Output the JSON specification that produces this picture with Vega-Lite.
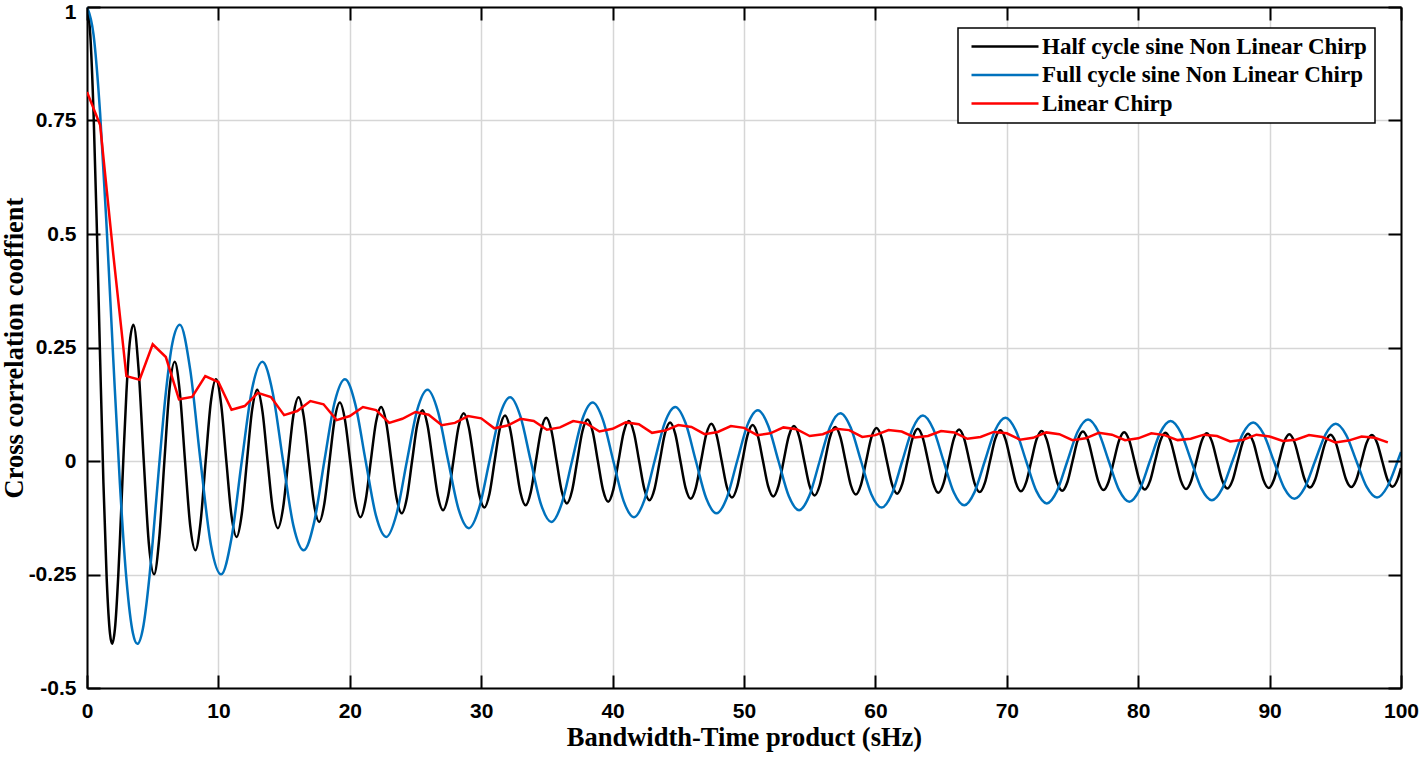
{
"$schema": "https://vega.github.io/schema/vega-lite/v6.json",
"width": 1314, "height": 681,
"autosize": {"type": "none"},
"padding": {"left": 87, "top": 7, "right": 23, "bottom": 69},
"background": "white",
"datasets": {
"half": [{"x":0,"y":1},{"x":0.25,"y":0.9385},{"x":0.5,"y":0.7652},{"x":0.75,"y":0.5118},{"x":1,"y":0.2239},{"x":1.25,"y":-0.0484},{"x":1.5,"y":-0.2601},{"x":1.75,"y":-0.3801},{"x":1.915,"y":-0.4028},{"x":2.125,"y":-0.37},{"x":2.375,"y":-0.2551},{"x":2.5,"y":-0.1776},{"x":2.75,"y":-0.0068},{"x":3,"y":0.1506},{"x":3.25,"y":0.2601},
{"x":3.534,"y":0.3001},{"x":3.927,"y":0.2013},{"x":4.32,"y":0},{"x":4.712,"y":-0.1838},{"x":5.105,"y":-0.2497},{"x":5.498,"y":-0.1701},{"x":5.89,"y":0},{"x":6.283,"y":0.1592},{"x":6.676,"y":0.2184},{"x":7.069,"y":0.15},{"x":7.461,"y":0},{"x":7.854,"y":-0.1423},{"x":8.247,"y":-0.1965},{"x":8.639,"y":-0.1357},{"x":9.032,"y":0},{"x":9.425,"y":0.1299},{"x":9.817,"y":0.1801},{"x":10.21,"y":0.1248},{"x":10.603,"y":0},{"x":10.996,"y":-0.1203},{"x":11.388,"y":-0.1672},{"x":11.781,"y":-0.1162},{"x":12.174,"y":0},{"x":12.566,"y":0.1125},{"x":12.959,"y":0.1567},{"x":13.352,"y":0.1092},{"x":13.744,"y":0},{"x":14.137,"y":-0.1061},{"x":14.53,"y":-0.148},{"x":14.923,"y":-0.1033},{"x":15.315,"y":0},{"x":15.708,"y":0.1007},{"x":16.101,"y":0.1406},{"x":16.493,"y":0.0982},{"x":16.886,"y":0},{"x":17.279,"y":-0.096},{"x":17.671,"y":-0.1342},{"x":18.064,"y":-0.0939},{"x":18.457,"y":0},{"x":18.85,"y":0.0919},{"x":19.242,"y":0.1286},{"x":19.635,"y":0.09},{"x":20.028,"y":0},{"x":20.42,"y":-0.0883},{"x":20.813,"y":-0.1237},{"x":21.206,"y":-0.0866},{"x":21.598,"y":0},{"x":21.991,"y":0.0851},{"x":22.384,"y":0.1192},{"x":22.777,"y":0.0836},{"x":23.169,"y":0},{"x":23.562,"y":-0.0822},{"x":23.955,"y":-0.1153},{"x":24.347,"y":-0.0808},{"x":24.74,"y":0},{"x":25.133,"y":0.0796},{"x":25.525,"y":0.1117},{"x":25.918,"y":0.0784},{"x":26.311,"y":0},{"x":26.704,"y":-0.0772},{"x":27.096,"y":-0.1084},{"x":27.489,"y":-0.0761},{"x":27.882,"y":0},{"x":28.274,"y":0.075},{"x":28.667,"y":0.1054},{"x":29.06,"y":0.074},{"x":29.452,"y":0},{"x":29.845,"y":-0.073},{"x":30.238,"y":-0.1026},{"x":30.631,"y":-0.0721},{"x":31.023,"y":0},{"x":31.416,"y":0.0712},{"x":31.809,"y":0.1},{"x":32.201,"y":0.0703},{"x":32.594,"y":0},{"x":32.987,"y":-0.0695},{"x":33.379,"y":-0.0977},{"x":33.772,"y":-0.0686},{"x":34.165,"y":0},{"x":34.558,"y":0.0679},{"x":34.95,"y":0.0954},{"x":35.343,"y":0.0671},{"x":35.736,"y":0},{"x":36.128,"y":-0.0664},{"x":36.521,"y":-0.0934},{"x":36.914,"y":-0.0657},{"x":37.306,"y":0},{"x":37.699,"y":0.065},{"x":38.092,"y":0.0914},{"x":38.485,"y":0.0643},{"x":38.877,"y":0},{"x":39.27,"y":-0.0637},{"x":39.663,"y":-0.0896},{"x":40.055,"y":-0.063},{"x":40.448,"y":0},{"x":40.841,"y":0.0624},{"x":41.233,"y":0.0879},{"x":41.626,"y":0.0618},{"x":42.019,"y":0},{"x":42.412,"y":-0.0613},{"x":42.804,"y":-0.0862},{"x":43.197,"y":-0.0607},{"x":43.59,"y":0},{"x":43.982,"y":0.0602},{"x":44.375,"y":0.0847},{"x":44.768,"y":0.0596},{"x":45.16,"y":0},{"x":45.553,"y":-0.0591},{"x":45.946,"y":-0.0832},{"x":46.338,"y":-0.0586},{"x":46.731,"y":0},{"x":47.124,"y":0.0581},{"x":47.517,"y":0.0818},{"x":47.909,"y":0.0576},{"x":48.302,"y":0},{"x":48.695,"y":-0.0572},{"x":49.087,"y":-0.0805},{"x":49.48,"y":-0.0567},{"x":49.873,"y":0},{"x":50.265,"y":0.0563},{"x":50.658,"y":0.0793},{"x":51.051,"y":0.0558},{"x":51.444,"y":0},{"x":51.836,"y":-0.0554},{"x":52.229,"y":-0.0781},{"x":52.622,"y":-0.055},{"x":53.014,"y":0},{"x":53.407,"y":0.0546},{"x":53.8,"y":0.0769},{"x":54.192,"y":0.0542},{"x":54.585,"y":0},{"x":54.978,"y":-0.0538},{"x":55.371,"y":-0.0758},{"x":55.763,"y":-0.0534},{"x":56.156,"y":0},{"x":56.549,"y":0.0531},{"x":56.941,"y":0.0748},{"x":57.334,"y":0.0527},{"x":57.727,"y":0},{"x":58.119,"y":-0.0523},{"x":58.512,"y":-0.0738},{"x":58.905,"y":-0.052},{"x":59.298,"y":0},{"x":59.69,"y":0.0516},{"x":60.083,"y":0.0728},{"x":60.476,"y":0.0513},{"x":60.868,"y":0},{"x":61.261,"y":-0.051},{"x":61.654,"y":-0.0719},{"x":62.046,"y":-0.0506},{"x":62.439,"y":0},{"x":62.832,"y":0.0503},{"x":63.225,"y":0.071},{"x":63.617,"y":0.05},{"x":64.01,"y":0},{"x":64.403,"y":-0.0497},{"x":64.795,"y":-0.0701},{"x":65.188,"y":-0.0494},{"x":65.581,"y":0},{"x":65.973,"y":0.0491},{"x":66.366,"y":0.0693},{"x":66.759,"y":0.0488},{"x":67.152,"y":0},{"x":67.544,"y":-0.0485},{"x":67.937,"y":-0.0685},{"x":68.33,"y":-0.0483},{"x":68.722,"y":0},{"x":69.115,"y":0.048},{"x":69.508,"y":0.0677},{"x":69.9,"y":0.0477},{"x":70.293,"y":0},{"x":70.686,"y":-0.0475},{"x":71.079,"y":-0.0669},{"x":71.471,"y":-0.0472},{"x":71.864,"y":0},{"x":72.257,"y":0.0469},{"x":72.649,"y":0.0662},{"x":73.042,"y":0.0467},{"x":73.435,"y":0},{"x":73.827,"y":-0.0464},{"x":74.22,"y":-0.0655},{"x":74.613,"y":-0.0462},{"x":75.006,"y":0},{"x":75.398,"y":0.0459},{"x":75.791,"y":0.0648},{"x":76.184,"y":0.0457},{"x":76.576,"y":0},{"x":76.969,"y":-0.0455},{"x":77.362,"y":-0.0641},{"x":77.754,"y":-0.0452},{"x":78.147,"y":0},{"x":78.54,"y":0.045},{"x":78.933,"y":0.0635},{"x":79.325,"y":0.0448},{"x":79.718,"y":0},{"x":80.111,"y":-0.0446},{"x":80.503,"y":-0.0629},{"x":80.896,"y":-0.0444},{"x":81.289,"y":0},{"x":81.681,"y":0.0441},{"x":82.074,"y":0.0623},{"x":82.467,"y":0.0439},{"x":82.86,"y":0},{"x":83.252,"y":-0.0437},{"x":83.645,"y":-0.0617},{"x":84.038,"y":-0.0435},{"x":84.43,"y":0},{"x":84.823,"y":0.0433},{"x":85.216,"y":0.0611},{"x":85.608,"y":0.0431},{"x":86.001,"y":0},{"x":86.394,"y":-0.0429},{"x":86.787,"y":-0.0606},{"x":87.179,"y":-0.0427},{"x":87.572,"y":0},{"x":87.965,"y":0.0425},{"x":88.357,"y":0.06},{"x":88.75,"y":0.0423},{"x":89.143,"y":0},{"x":89.535,"y":-0.0422},{"x":89.928,"y":-0.0595},{"x":90.321,"y":-0.042},{"x":90.713,"y":0},{"x":91.106,"y":0.0418},{"x":91.499,"y":0.059},{"x":91.892,"y":0.0416},{"x":92.284,"y":0},{"x":92.677,"y":-0.0414},{"x":93.07,"y":-0.0585},{"x":93.462,"y":-0.0413},{"x":93.855,"y":0},{"x":94.248,"y":0.0411},{"x":94.64,"y":0.058},{"x":95.033,"y":0.0409},{"x":95.426,"y":0},{"x":95.819,"y":-0.0408},{"x":96.211,"y":-0.0575},{"x":96.604,"y":-0.0406},{"x":96.997,"y":0},{"x":97.389,"y":0.0404},{"x":97.782,"y":0.0571},{"x":98.175,"y":0.0403},{"x":98.567,"y":0},{"x":98.96,"y":-0.0401},{"x":99.353,"y":-0.0566},{"x":99.746,"y":-0.0399},{"x":100,"y":-0.0154}],
"full": [{"x":0,"y":1},{"x":0.5,"y":0.9385},{"x":1,"y":0.7652},{"x":1.5,"y":0.5118},{"x":2,"y":0.2239},{"x":2.5,"y":-0.0484},{"x":3,"y":-0.2601},{"x":3.5,"y":-0.3801},{"x":3.832,"y":-0.4028},{"x":4.25,"y":-0.37},{"x":4.75,"y":-0.2551},{"x":5,"y":-0.1776},{"x":5.5,"y":-0.0068},{"x":6,"y":0.1506},{"x":6.5,"y":0.2601},
{"x":7.069,"y":0.3001},{"x":7.854,"y":0.2013},{"x":8.639,"y":0},{"x":9.425,"y":-0.1838},{"x":10.21,"y":-0.2497},{"x":10.996,"y":-0.1701},{"x":11.781,"y":0},{"x":12.566,"y":0.1592},{"x":13.352,"y":0.2184},{"x":14.137,"y":0.15},{"x":14.923,"y":0},{"x":15.708,"y":-0.1423},{"x":16.493,"y":-0.1965},{"x":17.279,"y":-0.1357},{"x":18.064,"y":0},{"x":18.85,"y":0.1299},{"x":19.635,"y":0.1801},{"x":20.42,"y":0.1248},{"x":21.206,"y":0},{"x":21.991,"y":-0.1203},{"x":22.777,"y":-0.1672},{"x":23.562,"y":-0.1162},{"x":24.347,"y":0},{"x":25.133,"y":0.1125},{"x":25.918,"y":0.1567},{"x":26.704,"y":0.1092},{"x":27.489,"y":0},{"x":28.274,"y":-0.1061},{"x":29.06,"y":-0.148},{"x":29.845,"y":-0.1033},{"x":30.631,"y":0},{"x":31.416,"y":0.1007},{"x":32.201,"y":0.1406},{"x":32.987,"y":0.0982},{"x":33.772,"y":0},{"x":34.558,"y":-0.096},{"x":35.343,"y":-0.1342},{"x":36.128,"y":-0.0939},{"x":36.914,"y":0},{"x":37.699,"y":0.0919},{"x":38.485,"y":0.1286},{"x":39.27,"y":0.09},{"x":40.055,"y":0},{"x":40.841,"y":-0.0883},{"x":41.626,"y":-0.1237},{"x":42.412,"y":-0.0866},{"x":43.197,"y":0},{"x":43.982,"y":0.0851},{"x":44.768,"y":0.1192},{"x":45.553,"y":0.0836},{"x":46.338,"y":0},{"x":47.124,"y":-0.0822},{"x":47.909,"y":-0.1153},{"x":48.695,"y":-0.0808},{"x":49.48,"y":0},{"x":50.265,"y":0.0796},{"x":51.051,"y":0.1117},{"x":51.836,"y":0.0784},{"x":52.622,"y":0},{"x":53.407,"y":-0.0772},{"x":54.192,"y":-0.1084},{"x":54.978,"y":-0.0761},{"x":55.763,"y":0},{"x":56.549,"y":0.075},{"x":57.334,"y":0.1054},{"x":58.119,"y":0.074},{"x":58.905,"y":0},{"x":59.69,"y":-0.073},{"x":60.476,"y":-0.1026},{"x":61.261,"y":-0.0721},{"x":62.046,"y":0},{"x":62.832,"y":0.0712},{"x":63.617,"y":0.1},{"x":64.403,"y":0.0703},{"x":65.188,"y":0},{"x":65.973,"y":-0.0695},{"x":66.759,"y":-0.0977},{"x":67.544,"y":-0.0686},{"x":68.33,"y":0},{"x":69.115,"y":0.0679},{"x":69.9,"y":0.0954},{"x":70.686,"y":0.0671},{"x":71.471,"y":0},{"x":72.257,"y":-0.0664},{"x":73.042,"y":-0.0934},{"x":73.827,"y":-0.0657},{"x":74.613,"y":0},{"x":75.398,"y":0.065},{"x":76.184,"y":0.0914},{"x":76.969,"y":0.0643},{"x":77.754,"y":0},{"x":78.54,"y":-0.0637},{"x":79.325,"y":-0.0896},{"x":80.111,"y":-0.063},{"x":80.896,"y":0},{"x":81.681,"y":0.0624},{"x":82.467,"y":0.0879},{"x":83.252,"y":0.0618},{"x":84.038,"y":0},{"x":84.823,"y":-0.0613},{"x":85.608,"y":-0.0862},{"x":86.394,"y":-0.0607},{"x":87.179,"y":0},{"x":87.965,"y":0.0602},{"x":88.75,"y":0.0847},{"x":89.535,"y":0.0596},{"x":90.321,"y":0},{"x":91.106,"y":-0.0591},{"x":91.892,"y":-0.0832},{"x":92.677,"y":-0.0586},{"x":93.462,"y":0},{"x":94.248,"y":0.0581},{"x":95.033,"y":0.0818},{"x":95.819,"y":0.0576},{"x":96.604,"y":0},{"x":97.389,"y":-0.0572},{"x":98.175,"y":-0.0805},{"x":98.96,"y":-0.0567},{"x":99.746,"y":0},{"x":100,"y":0.0199}],
"lin": [{"x":0,"y":0.813},{"x":1,"y":0.74},{"x":2,"y":0.455},{"x":3,"y":0.187},{"x":4,"y":0.179},{"x":5,"y":0.257},{"x":6,"y":0.229},{"x":7,"y":0.136},{"x":8,"y":0.141},{"x":9,"y":0.187},{"x":10,"y":0.174},{"x":11,"y":0.113},{"x":12,"y":0.121},{"x":13,"y":0.15},{"x":14,"y":0.141},{"x":15,"y":0.101},{"x":16,"y":0.11},{"x":17,"y":0.132},{"x":18,"y":0.125},{"x":19,"y":0.09},{"x":20,"y":0.099},{"x":21,"y":0.119},{"x":22,"y":0.112},{"x":23,"y":0.084},{"x":24,"y":0.093},{"x":25,"y":0.108},{"x":26,"y":0.102},{"x":27,"y":0.079},{"x":28,"y":0.084},{"x":29,"y":0.099},{"x":30,"y":0.094},{"x":31,"y":0.072},{"x":32,"y":0.078},{"x":33,"y":0.093},{"x":34,"y":0.088},{"x":35,"y":0.069},{"x":36,"y":0.074},{"x":37,"y":0.088},{"x":38,"y":0.083},{"x":39,"y":0.065},{"x":40,"y":0.071},{"x":41,"y":0.085},{"x":42,"y":0.081},{"x":43,"y":0.062},{"x":44,"y":0.067},{"x":45,"y":0.079},{"x":46,"y":0.075},{"x":47,"y":0.059},{"x":48,"y":0.064},{"x":49,"y":0.077},{"x":50,"y":0.073},{"x":51,"y":0.057},{"x":52,"y":0.061},{"x":53,"y":0.074},{"x":54,"y":0.07},{"x":55,"y":0.055},{"x":56,"y":0.059},{"x":57,"y":0.071},{"x":58,"y":0.068},{"x":59,"y":0.053},{"x":60,"y":0.057},{"x":61,"y":0.068},{"x":62,"y":0.065},{"x":63,"y":0.052},{"x":64,"y":0.055},{"x":65,"y":0.066},{"x":66,"y":0.063},{"x":67,"y":0.049},{"x":68,"y":0.053},{"x":69,"y":0.064},{"x":70,"y":0.061},{"x":71,"y":0.047},{"x":72,"y":0.051},{"x":73,"y":0.063},{"x":74,"y":0.059},{"x":75,"y":0.046},{"x":76,"y":0.05},{"x":77,"y":0.062},{"x":78,"y":0.058},{"x":79,"y":0.046},{"x":80,"y":0.05},{"x":81,"y":0.061},{"x":82,"y":0.057},{"x":83,"y":0.046},{"x":84,"y":0.049},{"x":85,"y":0.058},{"x":86,"y":0.055},{"x":87,"y":0.043},{"x":88,"y":0.047},{"x":89,"y":0.058},{"x":90,"y":0.054},{"x":91,"y":0.044},{"x":92,"y":0.047},{"x":93,"y":0.057},{"x":94,"y":0.053},{"x":95,"y":0.041},{"x":96,"y":0.045},{"x":97,"y":0.054},{"x":98,"y":0.051},{"x":99,"y":0.041}]
},
"layer": [
{
"data": {"name": "half"},
"mark": {"type": "line", "strokeWidth": 2.5, "interpolate": "monotone", "clip": true},
"encoding": {
"x": {"field": "x", "type": "quantitative", "scale": {"domain": [0, 100], "nice": false, "zero": false},
"axis": {"orient": "bottom", "values": [0,10,20,30,40,50,60,70,80,90,100], "title": "Bandwidth-Time product (sHz)", "labelFont": "Liberation Sans", "labelFontWeight": "bold", "labelFontSize": 21, "labelColor": "black", "labelPadding": 25, "labelFlush": false, "labelOverlap": false, "tickSize": -13, "tickWidth": 2, "tickColor": "black", "domainColor": "black", "domainWidth": 2, "grid": true, "gridColor": "#d6d6d6", "gridWidth": 1.5, "titleFont": "Liberation Serif", "titleFontSize": 26.5, "titleFontWeight": "bold", "titleColor": "black", "titleY": 57, "titleBaseline": "alphabetic"}},
"y": {"field": "y", "type": "quantitative", "scale": {"domain": [-0.5, 1], "nice": false, "zero": false},
"axis": {"orient": "left", "values": [-0.5,-0.25,0,0.25,0.5,0.75,1], "labelExpr": "toString(datum.value)", "title": "Cross correlation cooffient", "labelFont": "Liberation Sans", "labelFontWeight": "bold", "labelFontSize": 21, "labelColor": "black", "labelPadding": 24, "labelOverlap": false, "labelOffset": {"condition": {"test": "datum.value === 1", "value": 5}, "value": 0}, "tickSize": -13, "tickWidth": 2, "tickColor": "black", "domainColor": "black", "domainWidth": 2, "grid": true, "gridColor": "#d6d6d6", "gridWidth": 1.5, "titleFont": "Liberation Serif", "titleFontSize": 26.5, "titleFontWeight": "bold", "titleColor": "black", "titleX": -65, "titleBaseline": "alphabetic"}},
"color": {"datum": "Half cycle sine Non Linear Chirp", "type": "nominal",
"scale": {"domain": ["Half cycle sine Non Linear Chirp", "Full cycle sine Non Linear Chirp", "Linear Chirp"], "range": ["#000000", "#0072BD", "#FF0000"]},
"legend": {"orient": "none", "legendX": 871, "legendY": 21, "title": null, "symbolType": "stroke", "symbolSize": 4489, "symbolStrokeWidth": 2.5, "clipHeight": 23, "rowPadding": 4.5, "labelFont": "Liberation Serif", "labelFontWeight": "bold", "labelFontSize": 23, "labelColor": "black", "labelOffset": 2, "symbolOffset": 5, "labelLimit": 1000, "padding": 7, "strokeColor": "black", "fillColor": "white", "labelBaseline": "middle"}}
}
},
{
"data": {"name": "full"},
"mark": {"type": "line", "strokeWidth": 2.5, "interpolate": "monotone", "clip": true},
"encoding": {
"x": {"field": "x", "type": "quantitative",
"axis": {"orient": "top", "values": [0,10,20,30,40,50,60,70,80,90,100], "labels": false, "title": null, "grid": false, "tickSize": -13, "tickWidth": 2, "tickColor": "black", "domainColor": "black", "domainWidth": 2, "zindex": 1}},
"y": {"field": "y", "type": "quantitative",
"axis": {"orient": "right", "values": [-0.5,-0.25,0,0.25,0.5,0.75,1], "labels": false, "title": null, "grid": false, "tickSize": -13, "tickWidth": 2, "tickColor": "black", "domainColor": "black", "domainWidth": 2, "zindex": 1}},
"color": {"datum": "Full cycle sine Non Linear Chirp", "type": "nominal"}
}
},
{
"data": {"name": "lin"},
"mark": {"type": "line", "strokeWidth": 2.5, "clip": true},
"encoding": {
"x": {"field": "x", "type": "quantitative", "axis": null},
"y": {"field": "y", "type": "quantitative", "axis": null},
"color": {"datum": "Linear Chirp", "type": "nominal"}
}
}
],
"config": {"view": {"stroke": null}, "legend": {"strokeWidth": 1.5}}
}
